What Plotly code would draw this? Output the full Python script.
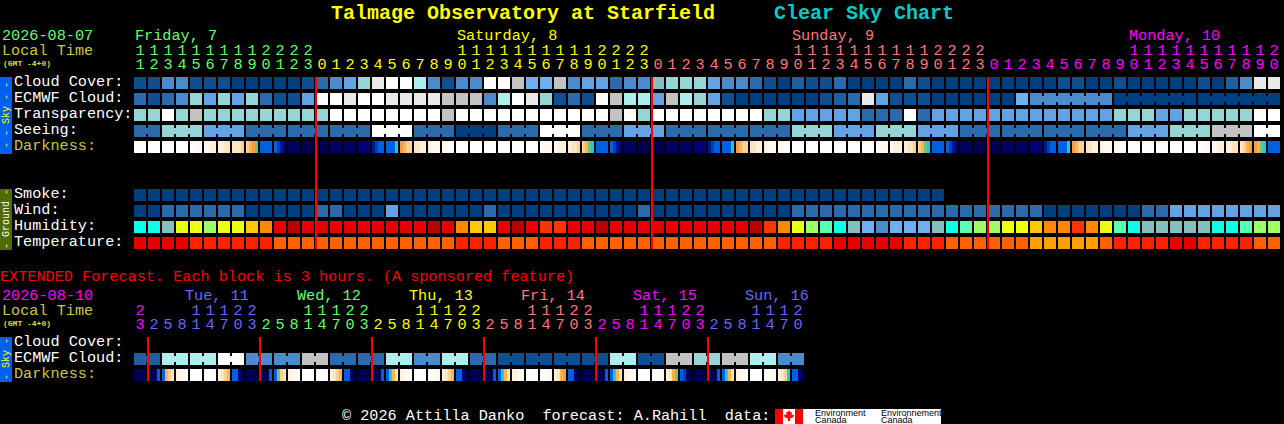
import plotly.graph_objects as go

# colour levels shared by all block rows
A, B, M, C, D, E, L, T, F, G, H, I, W = range(13)
CY, MI, LG, YE, GO, OR, RO, RE, DR, T2, T3, T4 = range(13, 25)
_ = None

block_colors = [
    "#003F7F", "#0F4F8F", "#1E5F9F", "#2C6BAB", "#4B8BCC", "#63A3E3", "#70B0F0",
    "#85C0C0", "#95D5D5", "#AEEEEE", "#C2C2C2", "#E9E9E9", "#FFFFFF",
    "#0CFFE8", "#58FFB0", "#9BFF66", "#EAFF14", "#FFC800", "#FF8800", "#FF3300",
    "#E60000", "#BB0000", "#FF2200", "#FF6000", "#FFA000",
]
dark_colors = [
    "#FFFFFF", "#FFF8F0", "#FFF0DC", "#FFE4C0", "#FFD090", "#FFB050", "#F0A040",
    "#60C890", "#10D0E0", "#0060E0", "#0040B0", "#001898", "#000078", "#000060", "#000050",
]

hours = list(range(11, 24)) + list(range(24)) + list(range(24)) + list(range(21))
hour_day = [0] * 13 + [1] * 24 + [2] * 24 + [3] * 21
ext_hours = [23] + [2, 5, 8, 11, 14, 17, 20, 23] * 5 + [2, 5, 8, 11, 14, 17, 20]
ext_day = [3] + [4] * 8 + [0] * 8 + [1] * 8 + [2] * 8 + [3] * 8 + [4] * 7
day_colors = ["#66FF66", "#FFFF00", "#FF7777", "#FF00FF", "#6666FF"]

midnights = [13, 37, 61]
ext_midnights = [1, 9, 17, 25, 33, 41]

cloud = [B, B, D, D, B, B, B, A, A, A, A, A, B,
         C, D, E, F, I, W, W, G, D, B, D, D, W, W, H, L, L, H, D, E, E, C, D, D,
         T, F, F, F, E, D, D, C, B, A, M, B, B, C, A, A, A, A, C, B, A, A, A, A,
         A, A, A, A, A, B, B, A, A, B, A, A, A, A, A, B, A, M, D, I, I]
ecmwf = [C, B, C, D, F, E, F, E, F, C, B, B, E,
         W, W, I, W, W, I, I, I, I, H, H, H, D, G, W, I, F, B, C, B, W, H, G, G,
         E, H, G, F, E, B, A, A, A, A, A, A, B, M, C, I, E, B, B, B, A, A, A, A,
         A, A, L, D, D, D, D, D, D, A, A, A, A, A, A, A, A, A, A, A, A]
ecmwf_runs = [(64, 69), (70, 75), (76, 81)]
transparency = [F, F, W, F, H, F, F, F, F, F, F, F, F,
                F, W, W, W, W, W, W, W, W, H, W, W, W, W, W, W, W, W, W, W, W, H, W, F,
                W, W, W, W, W, W, W, W, F, F, E, E, E, E, E, C, C, C, W, C, E, E, E, E,
                E, E, E, E, E, E, E, E, E, F, F, F, E, E, F, F, F, F, F, W, W]
seeing_groups = [C, F, E, C, C, C, W, C, A, C, W, C, E, C, C, C, F, E, F, E, C, C, C, C, E, F, H, W]
seeing_lengths = [2] + [3] * 26 + [2]
smoke = [A] * 58 + [_] * 24
wind = [A, A, C, C, C, C, C, C, A, A, A, A, A,
        C, C, A, A, A, E, A, A, A, A, A, A, C, A, A, A, A, A, A, A, A, A, A, C,
        A, A, A, A, A, A, A, A, A, A, C, C, C, C, C, C, C, C, C, C, C, C, C, C,
        C, C, C, C, A, A, A, A, A, A, A, C, C, E, E, E, E, E, E, E, E]
humidity = [CY, CY, T, YE, YE, LG, YE, YE, GO, OR, RE, DR, RE,
            RE, RE, RE, RE, RE, RE, RE, RE, DR, RE, OR, GO, GO, RE, DR, RE, RO, RO, RE, RE, DR, RE, RE, RE,
            RE, RE, RE, RE, RE, RE, RE, DR, RO, OR, YE, LG, MI, CY, T, L, D, L, L, L, T, CY, MI, LG,
            LG, YE, YE, GO, OR, OR, RO, OR, YE, MI, CY, T, T, T, T, T, CY, CY, MI, LG, LG]
temperature = [RE, RE, RE, RE, T2, T2, T2, T2, T2, T2, T3, T3, T3,
               T3, T3, T3, T3, T3, T3, T3, T3, T3, T3, T2, T2, T2, T3, T3, T3, T2, T2, T2, T3, T3, T3, T3, T3,
               T3, T3, T3, T3, T3, T3, T3, T3, T3, T2, T2, T2, T2, RE, RE, RE, RE, RE, T2, T2, T2, T3, T3, T3,
               T3, T3, T3, T4, T4, T4, T4, T4, T3, T2, T2, T2, T2, RE, RE, T2, T2, T2, T2, T3, T3]

ext_pairs = [M, G, G, W, D, D, H, C, C, G, D, G, C, B, B, B, B, G, B, H, F, H, G, D]

# four samples per block, index into dark_colors
darkness = [
    [0, 0, 0, 0], [0, 0, 0, 0], [0, 0, 0, 0], [0, 0, 0, 0], [0, 0, 1, 1], [1, 1, 2, 2], [2, 2, 3, 3],
    [3, 3, 3, 4], [4, 5, 6, 7], [9, 9, 9, 9], [9, 10, 11, 12], [13, 13, 13, 13], [14, 14, 14, 14],
    [14, 14, 14, 14], [13, 13, 13, 13], [13, 13, 13, 13], [12, 12, 12, 12], [11, 10, 9, 9], [9, 9, 9, 8],
    [6, 5, 4, 4], [3, 3, 2, 2], [2, 1, 1, 1], [1, 1, 0, 0], [0, 0, 0, 0], [0, 0, 0, 0], [0, 0, 0, 0],
    [0, 0, 0, 0], [0, 0, 0, 0], [0, 0, 0, 0], [0, 1, 1, 1], [1, 2, 2, 2], [2, 3, 3, 4], [4, 5, 7, 8],
    [9, 9, 9, 9], [9, 10, 11, 12], [13, 13, 13, 13], [14, 14, 14, 14], [14, 14, 14, 14], [13, 13, 13, 13],
    [13, 13, 13, 13], [12, 12, 12, 12], [11, 10, 9, 9], [9, 9, 9, 8], [6, 5, 4, 4], [3, 3, 2, 2],
    [2, 1, 1, 1], [1, 1, 0, 0], [0, 0, 0, 0], [0, 0, 0, 0], [0, 0, 0, 0], [0, 0, 0, 0], [0, 0, 0, 0],
    [0, 0, 0, 0], [0, 1, 1, 1], [1, 2, 2, 2], [2, 3, 3, 4], [4, 5, 7, 8], [9, 9, 9, 9], [9, 10, 11, 12],
    [13, 13, 13, 13], [14, 14, 14, 14], [14, 14, 14, 14], [13, 13, 13, 13], [13, 13, 13, 13], [12, 12, 12, 12],
    [11, 10, 9, 9], [9, 9, 9, 8], [6, 5, 4, 4], [3, 3, 2, 2], [2, 1, 1, 1], [1, 1, 0, 0], [0, 0, 0, 0],
    [0, 0, 0, 0], [0, 0, 0, 0], [0, 0, 0, 0], [0, 0, 0, 0], [0, 0, 1, 1], [1, 1, 2, 2], [2, 2, 3, 3],
    [3, 4, 5, 6], [6, 5, 7, 8], [9, 9, 9, 9],
]
ext_darkness = [
    [14, 14, 14, 14], [14, 14, 13, 9], [9, 5, 4, 3], [2, 1, 1, 0], [0, 0, 0, 0], [0, 0, 0, 1], [2, 3, 4, 5], [9, 9, 12, 14],
    [14, 14, 14, 14], [14, 14, 14, 9], [9, 7, 4, 3], [2, 1, 1, 0], [0, 0, 0, 0], [0, 0, 0, 1], [2, 3, 4, 5], [9, 9, 13, 14],
    [14, 14, 14, 14], [13, 14, 14, 9], [9, 8, 5, 3], [2, 1, 1, 0], [0, 0, 0, 0], [0, 0, 1, 1], [2, 3, 4, 5], [9, 9, 12, 14],
    [14, 14, 14, 14], [14, 14, 14, 9], [9, 8, 5, 3], [2, 2, 1, 0], [0, 0, 0, 0], [0, 0, 1, 1], [2, 3, 5, 6], [9, 9, 13, 14],
    [14, 14, 14, 14], [14, 14, 14, 9], [9, 8, 5, 3], [2, 1, 1, 0], [0, 0, 0, 0], [0, 0, 1, 1], [2, 3, 5, 7], [9, 10, 13, 14],
    [14, 14, 14, 14], [14, 14, 14, 9], [9, 8, 5, 3], [2, 1, 1, 0], [0, 0, 0, 0], [0, 0, 1, 1], [2, 3, 4, 8], [9, 9, 12, 14],
]

# layout in page pixels
PITCH = 14
BLOCK = 12
LEFT = 134
MONO = "Liberation Mono"
TEXT_SIZE = 15.2
OLIVE = "#C8C840"


def step_scale(colors):
    n = len(colors)
    scale = []
    for k, color in enumerate(colors):
        scale += [[k / n, color], [(k + 1) / n, color]]
    return scale


def block_heatmap(z, y=None, y0=None, dy=None):
    kwargs = {"y": y} if y is not None else {"y0": y0, "dy": dy}
    return go.Heatmap(
        z=z, x0=LEFT + BLOCK / 2, dx=PITCH, xgap=2, ygap=4, colorscale=step_scale(block_colors),
        zmin=-0.5, zmax=len(block_colors) - 0.5, showscale=False, hoverinfo="skip", **kwargs,
    )


def dark_heatmap(samples, top):
    # every block is 12 one pixel columns, then two empty ones for the gap
    row = []
    for block in samples:
        for value in block:
            row += [value] * (BLOCK // len(block))
        row += [None] * (PITCH - BLOCK)
    row = row[:-(PITCH - BLOCK)]
    return go.Heatmap(
        z=[row], x=[LEFT + k for k in range(len(row) + 1)], y=[top, top + BLOCK],
        colorscale=step_scale(dark_colors), zmin=-0.5, zmax=len(dark_colors) - 0.5,
        showscale=False, hoverinfo="skip",
    )


def connectors(values, runs, y):
    xs, colors = [], []
    for start, end in runs:
        for i in range(start, end):
            xs.append(LEFT + PITCH * i + BLOCK + 1)
            colors.append(block_colors[values[i]])
    return go.Scatter(
        x=xs, y=[y] * len(xs), mode="markers", hoverinfo="skip", showlegend=False,
        marker={"symbol": "square", "size": 6, "color": colors, "line": {"width": 0}},
    )


def midnight_lines(idx, top, bottom):
    xs, ys = [], []
    for i in idx:
        xs += [LEFT + PITCH * i, LEFT + PITCH * i, None]
        ys += [top, bottom, None]
    return go.Scatter(x=xs, y=ys, mode="lines", line={"color": "#FF0000", "width": 2},
                      hoverinfo="skip", showlegend=False)


def hour_digits(values, days, y_tens, y_ones):
    centers = [LEFT + BLOCK / 2 + PITCH * i for i in range(len(values))]
    tens = [i for i, h in enumerate(values) if h >= 10]
    return [
        go.Scatter(
            x=[centers[i] for i in tens], y=[y_tens] * len(tens), mode="text",
            text=[str(values[i] // 10) for i in tens], hoverinfo="skip", showlegend=False,
            textfont={"family": MONO, "size": TEXT_SIZE, "color": [day_colors[days[i]] for i in tens]},
        ),
        go.Scatter(
            x=centers, y=[y_ones] * len(values), mode="text",
            text=[str(h % 10) for h in values], hoverinfo="skip", showlegend=False,
            textfont={"family": MONO, "size": TEXT_SIZE, "color": [day_colors[d] for d in days]},
        ),
    ]


seeing = []
seeing_runs = []
for value, length in zip(seeing_groups, seeing_lengths):
    seeing_runs.append((len(seeing), len(seeing) + length - 1))
    seeing += [value] * length

ext_ecmwf = []
ext_runs = []
for value in ext_pairs:
    ext_runs.append((len(ext_ecmwf), len(ext_ecmwf) + 1))
    ext_ecmwf += [value, value]

empty = [_] * 82
grid = [cloud, ecmwf, transparency, seeing, empty, empty, empty, smoke, wind, humidity, temperature]

fig = go.Figure()
fig.add_trace(block_heatmap(grid, y0=83, dy=16))
fig.add_trace(block_heatmap([ext_ecmwf], y=[351, 367]))
fig.add_trace(dark_heatmap(darkness, 141))
fig.add_trace(dark_heatmap(ext_darkness, 369))
fig.add_trace(connectors(ecmwf, ecmwf_runs, 99))
fig.add_trace(connectors(seeing, seeing_runs, 131))
fig.add_trace(connectors(ext_ecmwf, ext_runs, 359))
fig.add_trace(midnight_lines(midnights, 77, 249))
fig.add_trace(midnight_lines(ext_midnights, 337, 381))
for trace in hour_digits(hours, hour_day, 51, 65) + hour_digits(ext_hours, ext_day, 311, 325):
    fig.add_trace(trace)

texts = [
    (331, 12, "Talmage Observatory at Starfield", "#FFFF00", 20, True),
    (774, 12, "Clear Sky Chart", "#00CCCC", 20, True),
    (2, 35, "2026-08-07", "#66FF66", TEXT_SIZE, False),
    (2, 50, "Local Time", OLIVE, TEXT_SIZE, False),
    (3, 62, "(GMT -4+0)", "#DCDC30", 8, True),
    (135, 35, "Friday, 7", day_colors[0], TEXT_SIZE, False),
    (457, 35, "Saturday, 8", day_colors[1], TEXT_SIZE, False),
    (792, 35, "Sunday, 9", day_colors[2], TEXT_SIZE, False),
    (1129, 35, "Monday, 10", day_colors[3], TEXT_SIZE, False),
    (14, 81, "Cloud Cover:", "#FFFFFF", TEXT_SIZE, False),
    (14, 97, "ECMWF Cloud:", "#FFFFFF", TEXT_SIZE, False),
    (14, 113, "Transparency:", "#FFFFFF", TEXT_SIZE, False),
    (14, 129, "Seeing:", "#FFFFFF", TEXT_SIZE, False),
    (14, 145, "Darkness:", OLIVE, TEXT_SIZE, False),
    (14, 193, "Smoke:", "#FFFFFF", TEXT_SIZE, False),
    (14, 209, "Wind:", "#FFFFFF", TEXT_SIZE, False),
    (14, 225, "Humidity:", "#FFFFFF", TEXT_SIZE, False),
    (14, 241, "Temperature:", "#FFFFFF", TEXT_SIZE, False),
    (0, 276, "EXTENDED Forecast. Each block is 3 hours. (A sponsored feature)", "#FF0000", TEXT_SIZE, False),
    (2, 295, "2026-08-10", "#FF00FF", TEXT_SIZE, False),
    (2, 310, "Local Time", OLIVE, TEXT_SIZE, False),
    (3, 322, "(GMT -4+0)", "#DCDC30", 8, True),
    (185, 295, "Tue, 11", day_colors[4], TEXT_SIZE, False),
    (297, 295, "Wed, 12", day_colors[0], TEXT_SIZE, False),
    (409, 295, "Thu, 13", day_colors[1], TEXT_SIZE, False),
    (521, 295, "Fri, 14", day_colors[2], TEXT_SIZE, False),
    (633, 295, "Sat, 15", day_colors[3], TEXT_SIZE, False),
    (745, 295, "Sun, 16", day_colors[4], TEXT_SIZE, False),
    (14, 341, "Cloud Cover:", "#FFFFFF", TEXT_SIZE, False),
    (14, 357, "ECMWF Cloud:", "#FFFFFF", TEXT_SIZE, False),
    (14, 373, "Darkness:", OLIVE, TEXT_SIZE, False),
    (342, 414.5, "© 2026 Attilla Danko\u00a0\u00a0forecast: A.Rahill\u00a0\u00a0data:", "#FFFFFF", TEXT_SIZE, False),
]
# annotations carry a small padding, the shifts take it back
annotations = [
    {
        "x": x, "y": y, "text": f"<b>{text}</b>" if bold else text, "xshift": -2, "yshift": -1,
        "xref": "x", "yref": "y", "xanchor": "left", "yanchor": "middle", "showarrow": False,
        "font": {"family": MONO, "size": size, "color": color},
    }
    for x, y, text, color, size, bold in texts
]

# side tabs: centre y and rotated caption
for y, text, color in [
    (115, "- - Sky - -", "#FFFF00"),
    (219, "- Ground -", "#FFFFFF"),
    (359, "- Sky -", "#FFFF00"),
]:
    annotations.append({
        "x": 6, "y": y, "text": text, "xref": "x", "yref": "y", "textangle": -90, "showarrow": False,
        "font": {"family": MONO, "size": 10, "color": color},
    })

for x, y, text in [
    (815, 412.5, "Environment"), (815, 419.5, "Canada"),
    (881, 412.5, "Environnement"), (881, 419.5, "Canada"),
]:
    annotations.append({
        "x": x, "y": y, "text": text, "xshift": -2, "xref": "x", "yref": "y", "xanchor": "left", "yanchor": "middle",
        "showarrow": False, "font": {"family": "Liberation Sans", "size": 9, "color": "#000000"},
    })


def rect(x0, y0, x1, y1, color):
    return {"type": "rect", "xref": "x", "yref": "y", "x0": x0, "y0": y0, "x1": x1, "y1": y1,
            "fillcolor": color, "line": {"width": 0}, "layer": "below"}


shapes = [
    rect(0, 77, 12, 154, "#0060F0"),
    rect(0, 189, 12, 250, "#4F6B00"),
    rect(0, 337, 12, 382, "#0060F0"),
    rect(775, 409, 941, 424, "#FFFFFF"),
    rect(775, 409, 783, 424, "#FF0000"),
    rect(795, 409, 803, 424, "#FF0000"),
    {
        "type": "path", "xref": "x", "yref": "y", "layer": "below", "fillcolor": "#FF0000", "line": {"width": 0},
        "path": "M789,410 L790.5,412.5 L792,412 L791.5,415 L794,414.5 L793.5,417 L790,418.5 L790,421 "
                "L788,421 L788,418.5 L784.5,417 L784,414.5 L786.5,415 L786,412 L787.5,412.5 Z",
    },
]

fig.update_layout(
    width=1284,
    height=424,
    margin={"l": 0, "r": 0, "t": 0, "b": 0},
    paper_bgcolor="#000000",
    plot_bgcolor="#000000",
    showlegend=False,
    xaxis={"range": [0, 1284], "visible": False, "fixedrange": True},
    yaxis={"range": [424, 0], "visible": False, "fixedrange": True},
    annotations=annotations,
    shapes=shapes,
)
# the default page has a body margin, which would push the chart down and right
fig.write_html(
    "out.html",
    config={"displayModeBar": False},
    post_script="document.body.style.margin = '0'; document.body.style.background = '#000';",
)
